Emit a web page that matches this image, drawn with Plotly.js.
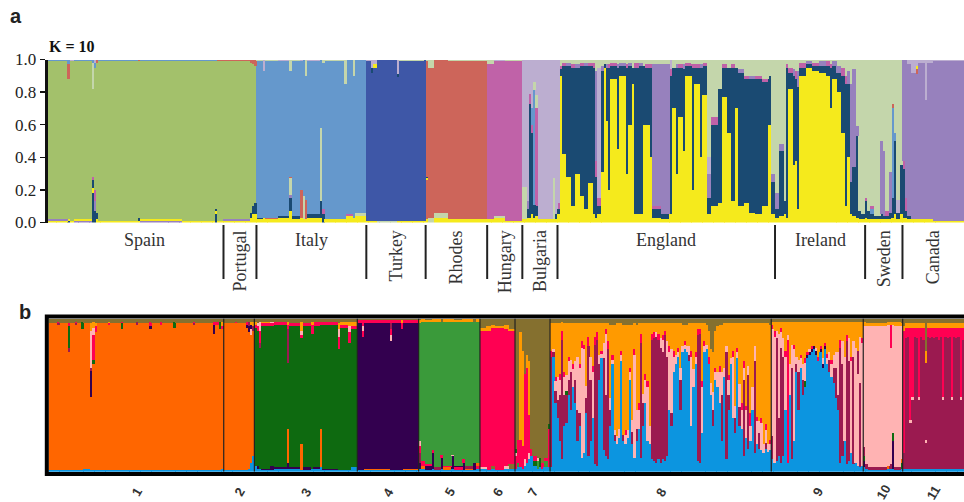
<!DOCTYPE html>
<html><head><meta charset="utf-8">
<script src="https://cdn.plot.ly/plotly-3.0.1.min.js"></script>
<style>html,body{margin:0;padding:0;background:#fff}#chart{width:964px;height:502px}</style>
</head><body><div id="chart"></div>
<script>
// ===================== PANEL a (K = 10) =====================
// Each entry: "count|segments bottom-to-top", values in %, "*" = remainder
const popsA = ['Spain','Portugal','Italy','Turkey','Rhodes','Hungary','Bulgaria','England','Ireland','Sweden','Canada'];
const spainA = ["9|Y1 C1 G* I1","1|N1 Y1 G* R9 I3","2|Y1 G* L1","8|C1 Y1 G* I1","1|N18 Y3 N5 H2 G* S16 I2",
  "1|N7 C6 H7 G* I3 L2","1|Y2 N4 G* R2","18|Y1 G* I1","1|Y1 N2 G* R1","19|C1 Y1 G* I1","15|Y1 G* I1",
  "1|N5 Y2 N1 G* I1","3|Y1 G* R1"];
const portugalA = ["12|Y1 C1 G* R1","1|Y3 N3 G* R2","1|Y5 N5 G* R3","1|Y5 N7 G* R4"];
const italyA = ["3|Y2 N1 I* S1","1|Y3 I* L7","6|Y2 R1 I* S1","5|Y3 N1 I* L1","1|Y7 N8 C2 S10 R1 I* S7",
  "4|Y2 N2 I* S1","1|Y3 R17 I* L1","1|Y2 S14 I*","1|Y2 R12 I* S10","6|Y3 N2 I* L1","1|Y3 N10 S45 I*",
  "1|N5 H3 I* S2","9|Y2 I* S1","1|Y2 I* S15","3|Y4 H1 I*","1|Y3 I* S10","5|Y4 S2 I*"];
const turkeyA = ["2|Y1 T* L1","1|Y1 T* N3 L5","2|Y1 T* Y2 L3","9|S1 T*","1|Y1 T* N2 L9","11|Y1 T* S1","1|Y1 T*"];
const rhodesA = ["1|Y2 R24 Y1 N1 R* S1","3|S3 R* S5","6|Y3 S3 R*","18|Y2 R* S1"];
const hungaryA = ["3|Y2 H* S3","5|Y3 S1 H* L1","8|Y1 H* S1"];
const bulgariaA = ["2|Y2 S20 L*","1|Y3 N5 C5 L*","1|Y3 N70 H6 L*","1|Y5 N50 H5 I10 L*","1|Y3 N8 I70 S5 L*",
  "1|Y4 N6 H60 S8 L*","7|Y2 L*","1|Y2 S25 L*","1|Y2 N3 L*"];
const englandA = ["1|Y5 N3 H4 L*","1|Y90 N4 H2 S*","2|Y42 N54 H2 S*","2|Y28 N68 C2 S*","2|Y10 N85 H2 S*",
  "2|Y30 N65 C2 S*","2|Y16 N80 H2 S*","2|Y8 N88 C2 S*","2|Y24 N72 H2 S*","1|Y5 N90 H3 S*",
  "1|Y3 N25 H10 C55 S*","2|Y5 N5 H5 L80 S*","1|Y31 N62 C3 S*","1|Y95 N2 S*","1|Y62 N33 C2 S*",
  "1|Y20 N75 H2 S*","3|Y88 N8 H2 S*","1|Y45 N50 C2 S*","3|Y90 N6 C2 S*","1|Y30 N65 H2 S*",
  "2|Y60 N36 C2 S*","1|Y85 N10 S*","2|Y5 N90 H3 S*","2|Y5 N91 C2 S*","1|Y60 N36 S*",
  "2|Y60 N35 H2 S*","1|Y40 N55 H2 S*","4|Y3 N5 H2 C87 S*","4|Y2 N3 C92 S*","1|Y5 N85 H4 L*",
  "2|Y70 N25 S*","1|Y30 N65 C2 S*","2|Y65 N30 H2 S*","1|Y44 N50 C3 S*","3|Y90 N6 H2 S*",
  "1|Y20 N75 H2 S*","3|Y85 N10 H2 S*","1|Y40 N55 C2 S*","2|Y78 N18 H2 S*","2|Y5 N10 C15 L10 S*",
  "3|Y10 N50 H5 S*","2|Y12 N70 S*","2|Y77 N18 H2 S*","2|Y55 N40 S*","2|Y13 N82 H2 S*",
  "1|Y70 N25 S*","3|Y10 N82 C2 S*","2|Y12 N76 H2 S*","3|Y6 N82 C2 S*","3|Y5 N83 H2 S*",
  "3|Y10 N76 H2 S*","1|Y60 N30 S*","2|Y5 N20 C5 S*"];
const irelandA = ["2|Y3 N5 C10 S*","2|Y4 N40 C4 S*","1|Y5 N8 S*","1|Y3 N92 H2 S*","2|Y82 N10 H3 S*",
  "1|Y35 N55 C4 S*","1|Y38 N50 H5 S*","1|Y8 N75 C10 S*","3|Y90 N5 H3 S*","3|Y95 N2 C2 S*",
  "3|Y93 N3 H2 S*","3|Y92 N4 C3 S*","2|Y90 N6 H3 S*","1|Y70 N25 H2 S*","2|Y88 N8 C3 S*",
  "2|Y80 N12 C4 S*","2|Y55 N35 H5 S*","1|Y10 N75 H5 S*","1|Y40 N45 C8 S*","1|Y5 N20 C60 S*",
  "2|Y4 N30 C60 S*","1|Y3 N50 C6 S*","1|Y2 N5 S*","2|Y2 N3 S*"];
const swedenA = ["1|Y3 N10 H2 S*","1|Y2 N5 S*","2|Y2 N3 I3 H2 S*","3|Y2 N2 S*","1|Y2 N3 C45 S*",
  "1|Y2 N2 C40 S*","2|Y2 N2 H3 S*","1|Y2 N4 C25 S*","1|Y3 N12 I55 R3 S*","1|Y5 N45 I5 S*",
  "2|Y2 N4 L8 S*","1|Y5 N30 S*"];
const canadaA = ["1|Y3 N30 H5 C*","1|Y3 N4 H8 C*","2|Y2 N2 C* L3","2|Y2 C* L8","1|Y2 C* R3 Y2 L4",
  "3|Y2 C* L2","1|Y2 C* L25","3|Y2 C* L2","14|Y1 C* L1"];
const panelA = [spainA, portugalA, italyA, turkeyA, rhodesA, hungaryA, bulgariaA, englandA, irelandA, swedenA, canadaA];
const tickValsA = [0, 0.2, 0.4, 0.6, 0.8, 1.0];
const tickTextA = ['0.0','0.2','0.4','0.6','0.8','1.0'];

// ===================== PANEL b =====================
const popsB = ['1','2','3','4','5','6','7','8','9','10','11'];
const pop1B = ["4|B1 O* V3","1|B1 O* M1 R1 V2","4|B1 O* V3","1|B1 O77 M3 D14 R2 V*","2|B1 O* V3",
  "1|B1 O* M1 R1 V2","2|B1 O* V3","1|B1 O* D5 V2","3|B2 O* V3",
  "1|B1 O48 P17 M2 K24 A5 V*","1|B1 O69 D3 R16 K5 A4 V*","1|B1 O90 R4 A2 V*","5|B1 O* V3",
  "1|B1 O* R1 A1 V2","5|B1 O* V3","1|B1 O* D4 R1 V2","6|B1 O* V3","1|B1 O* M2 V2","5|B1 O* V3",
  "1|B1 O* P2 R3 V2","4|B1 O* V3","1|B1 O* R2 V2","5|B1 O* V3","1|B1 O* D4 V2",
  "8|B1 O* V3","1|B1 O* M1 R1 V2","8|B1 O* V3","1|B1 O* P6 R2 V2","2|B1 O* R2 V2","1|B1 O* D5 V2",
  "1|B2 O* R2 A3 V2"];
const pop2B = ["5|B1 O* V3","1|B1 O* R1 V2","4|B1 O* V3","1|B1 O* P2 R2 V2","1|B2 O* P4 M3 V2",
  "1|B6 O* K4 P3 A2 V2","1|B10 O* M3 A3 V2"];
const pop3B = ["1|B4 D* R2 A2 V2","1|B2 P2 D* R3 K2 V3","1|B2 D* M3 R8 K6 V2","4|B1 P1 D* R2 A1 V2",
  "2|B1 P3 D* R2 K1 V2","6|B2 P1 D* R2 V2","1|B2 P4 O22 D* M22 R3 A2 V2","5|B2 P1 D* R2 V3",
  "1|B1 O17 D* R2 K3 A6 V2","4|B1 P2 D* R2 V3","1|B2 D* R6 A2 V2","3|B2 P1 D* R3 V2",
  "1|B3 O25 D* R2 V2","7|B1 P1 D* R2 V2","1|B1 D* R8 K5 A4 V3","4|B1 D* R2 A2 V2",
  "1|B1 D* R7 K4 A3 V2","3|B3 D* R2 A3 V2"];
const pop4B = ["2|B1 P* R2 V1","1|B1 P* R4 K3 R4 V1","12|B1 O1 P* R2 V1","1|B1 P* K4 R4 M4 R2 V1",
  "4|B1 P* R2 V1","1|B1 P* R4 A2 V1","7|B1 O1 P* R2 V1"];
const pop5B = ["1|B2 P4 M6 R5 K3 E* A2 V1","2|B2 O2 R3 E* A2","3|B1 P3 R1 E* A1 V1","1|B2 P10 R2 E* A2",
  "3|B1 M2 E* A2","1|B2 P7 R2 E* V2","4|B1 O2 R1 E* A2","1|B2 P8 K1 E* A2","4|B1 R2 P1 E* A1 V1",
  "1|B1 P5 R2 E* A2","4|B1 O1 M2 E* A2","1|B1 P5 E* V2","2|B2 R2 O2 E* A2"];
const pop6B = ["3|B2 K1 R* A2 V6","2|B1 R* A3 V5","2|B2 V2 R* A2 V4","4|B1 R* A1 V5","2|B2 K2 R* A3 V4","3|B2 V3 R* A1 V7"];
const pop7B = ["1|B2 R8 K2 D3 V*","1|B3 E3 R15 V*","1|B3 R18 A70 V*","1|B2 R15 A62 V*","1|B4 K4 R56 V*",
  "1|B6 R62 A8 V*","1|B8 K4 R25 A35 V*","1|B10 R5 V*","2|B4 D3 R3 V*","1|B2 E5 K2 V*","1|B3 D6 V*",
  "1|B2 R4 V*","2|B3 E4 R2 V*","1|B3 R25 D3 V*"];
const pop8B = ["1|B3 M72 R4 A* V3","1|B75 M3 K2 A* V3","1|B45 M8 K6 R3 A* V3","1|B35 M12 K15 A* V3",
  "1|B20 M30 K10 R4 A* V3","1|B8 M78 R6 A* V2","1|B30 M20 K12 R3 A* V3","1|B32 M18 D3 K10 A* V3",
  "1|B50 M10 K12 R3 A* V3","1|B40 M25 K8 A* V3","1|B55 K12 R3 A* V3","1|B45 M15 K12 A* V3",
  "1|B20 M20 K35 A* V3","1|B30 M8 K30 R2 A* V3","1|B9 K72 R4 A* V3","1|B12 K68 R3 A* V3",
  "1|B38 M10 K8 A* V3","1|B10 M72 R6 A* V3","1|B20 M40 K15 A* V3","1|B35 K30 R4 A* V3",
  "1|B5 M78 R5 A* V3","1|B4 M82 R5 A* V3","1|B60 M10 K6 A* V3","1|B74 K3 R2 A* V3",
  "1|B14 M60 K10 A* V3","1|B10 M40 K40 R3 A* V3","1|B8 M72 R5 A* V3","1|B30 M10 K8 A* V4",
  "1|B70 K3 R3 A* V4","1|B20 M4 K3 A* V4","1|B18 K5 A* V3","1|B22 K6 A* V3","1|B72 K4 R3 A* V3",
  "1|B20 M4 A* V4","1|B18 K6 R3 A* V4","1|B22 K5 A* V4","1|B60 K5 R3 A* V4","1|B18 M8 K8 A* V4",
  "1|B9 K67 R4 A* V3","1|B20 M8 K12 A* V4","1|B28 K12 R5 A* V3","1|B9 M75 R6 A* V3",
  "1|B30 M15 K6 A* V3","1|B45 K15 R4 A* V3","1|B20 K35 R4 A* V3","1|B18 K12 A* V3",
  "1|B8 M78 R4 A* V3","1|B7 M80 R4 A* V3","1|B6 M82 K3 A* V3","1|B8 M78 R4 A* V3",
  "1|B6 M75 K6 A* V3","1|B8 M70 K8 R3 A* V3","1|B7 M82 R3 A* V3","1|B10 M65 K10 A* V3",
  "1|B40 K38 R4 A* V3","1|B30 M8 K42 A* V3","1|B65 K10 R4 A* V3","1|B70 K6 A* V3",
  "1|B75 K3 R3 A* V3","1|B40 M20 K8 A* V3","1|B78 K4 A* V4","1|B80 K3 R2 A* V4","1|B78 K4 A* V4",
  "1|B72 M4 K6 A* V3","1|B30 K45 R4 A* V3","1|B55 K12 A* V3","1|B70 K5 R3 A* V3",
  "1|B7 M82 R4 A* V3","1|B6 M84 R3 A* V3","1|B25 K30 R4 A* V3","1|B78 K4 R3 A* V3",
  "1|B80 K3 A* V4","1|B70 R5 A* V8","1|B50 K8 A* V20","1|B30 M10 K12 A* V22","1|B60 K5 R3 A* V8",
  "1|B55 K10 A* V5","1|B45 K20 R4 A* V4","1|B20 M30 K15 A* V4","1|B62 K6 A* V3","1|B8 M70 K4 A* V3",
  "1|B40 M10 K10 R3 A* V3","1|B70 K4 A* V3","1|B35 K40 R4 A* V3","1|B25 M10 K8 A* V3",
  "1|B74 K4 R3 A* V3","1|B30 M12 K15 A* V3","1|B28 K12 R5 A* V3","1|B10 M50 K8 R4 A* V3",
  "1|B22 K18 R3 A* V3","1|B15 M48 K6 A* V3","1|B20 K10 R8 A* V3","1|B40 K15 A* V3",
  "1|B12 M60 K10 A* V3","1|B18 K15 R3 A* V3","1|B15 M10 K8 A* V3","1|B14 K18 R3 A* V3",
  "1|B12 K6 A* V3","1|B15 M4 K8 R4 A* V3","1|B13 K5 A* V3","1|B14 K4 R3 A* V4"];
const pop9B = ["1|B8 M15 K70 R3 A* V2","1|B6 K82 R4 A* V2","1|B7 M80 K5 A* V2","1|B10 M25 K55 A* V2",
  "1|B6 M75 K10 R3 A* V2","1|B10 M65 K12 A* V2","1|B40 K35 R4 A* V2","1|B6 R80 K3 A* V2",
  "1|B50 K20 A* V2","1|B8 M60 K15 A* V2","1|B20 K60 R3 A* V2","1|B65 M5 K5 A* V2",
  "1|B40 M25 K8 A* V2","1|B68 K6 R2 A* V2","1|B50 M10 K10 A* V2","1|B55 D4 K12 R3 A* V2",
  "1|B74 P2 R2 A* V2","1|B76 P2 K2 A* V2","1|B78 P2 R2 A* V2","1|B80 P2 A* V2","1|B76 P3 K2 A* V2",
  "1|B72 R3 A* V2","1|B78 P2 R2 A* V2","1|B68 P2 K4 A* V2","1|B80 P2 R2 A* V2","1|B70 K4 R3 A* V2",
  "1|B65 M8 K5 A* V2","1|B62 K8 R3 A* V2","1|B58 M10 K8 A* V2","1|B48 M20 K10 A* V2",
  "1|B40 M10 K28 A* V2","1|B6 M75 R5 A* V2","1|B10 M60 K15 A* V2","1|B20 K55 A* V2",
  "1|B5 M80 R4 A* V2","1|B7 M65 K15 A* V2","1|B12 K60 R3 A* V2","1|B5 M70 K10 A* V2",
  "1|B6 K75 A* V2","1|B4 K60 M15 A* V2","1|B3 M55 K30 A* V2","1|B4 K80 R3 A* V2"];
const pop10B = ["1|B3 P4 D3 M6 K* A3 V2","1|B2 M3 K* A2 V3","9|B1 M2 K* A2 V3","1|B2 O2 K* A2 V2",
  "1|B2 M3 K* R15 A2 V2","1|B2 P18 D5 K* A2 V2","3|B1 M2 K* A3 V2","1|B2 D4 O2 K* A2 V3"];
const pop11B = ["1|B2 M10 R80 A3 V*","1|B2 M85 R7 A3 V*","1|B2 M86 R6 A3 V*","1|B2 M30 K2 R60 A3 V*",
  "1|B2 M45 K2 R45 A3 V*","1|B2 M86 R6 A3 V*","1|B2 M85 R7 A3 V*","1|B2 M45 K2 R45 A3 V*",
  "1|B2 M86 R6 A3 V*","1|B2 M84 R8 A3 V*","1|B2 M17 K2 M50 A8 V*","1|B2 M86 R6 A3 V*",
  "1|B2 M85 R7 A3 V*","1|B2 M86 R6 A3 V*","1|B2 M85 R7 A3 V*","1|B2 M86 R6 A3 V*",
  "1|B2 M84 R8 A3 V*","1|B2 M86 R6 A3 V*","1|B2 M45 K2 R45 A3 V*","1|B2 M86 R6 A3 V*",
  "1|B2 M85 R7 A3 V*","1|B2 M86 R6 A3 V*","1|B2 M45 K2 R45 A3 V*","1|B2 M86 R6 A3 V*",
  "1|B2 M85 R7 A3 V*","1|B2 M86 R6 A3 V*","1|B2 M45 K2 R45 A3 V*","1|B2 M84 R8 A3 V*"];
const panelB = [pop1B, pop2B, pop3B, pop4B, pop5B, pop6B, pop7B, pop8B, pop9B, pop10B, pop11B];

// ===================== STYLES =====================
const colorsA = {G:'#a3c16b', I:'#6598cc', T:'#3e57a7', R:'#cd655a', H:'#c062a8', L:'#bcaed0',
                 N:'#1a4a72', Y:'#f5ea1c', S:'#c4d6ab', C:'#9781bd'};
const colorsB = {O:'#ff6600', D:'#0e6a10', P:'#33004f', E:'#3a9a3a', R:'#ff0052', V:'#85702f',
                 A:'#ff9a00', B:'#0c95e0', M:'#9b1a50', K:'#ffb3b3'};
const W = 964, H = 502;
const px = x => x / W, py = y => 1 - y / H;

function expand(pop) {
  const out = [];
  pop.forEach(entry => {
    const [n, segs] = entry.split('|');
    const parts = segs.trim().split(/\s+/).map(s => ({k: s[0], v: s.slice(1)}));
    const known = parts.filter(p => p.v !== '*').reduce((a, p) => a + parseFloat(p.v), 0);
    parts.forEach(p => { p.val = (p.v === '*' ? Math.max(0, 100 - known) : parseFloat(p.v)) / 100; });
    for (let i = 0; i < +n; i++) out.push(parts);
  });
  return out;
}
function buildPanel(pops, colors, xa, ya) {
  const tr = {}; let idx = 0; const bounds = [0];
  Object.keys(colors).forEach(k => {
    tr[k] = {type:'bar', x:[], y:[], base:[], width:[], xaxis:xa, yaxis:ya, hoverinfo:'skip', showlegend:false,
             marker:{color:colors[k], line:{width:0}}};
  });
  pops.forEach(pop => {
    expand(pop).forEach(parts => {
      let base = 0;
      parts.forEach(p => {
        const t = tr[p.k];
        t.x.push(idx + 0.5); t.y.push(p.val); t.base.push(base); t.width.push(1.06);
        base += p.val;
      });
      idx++;
    });
    bounds.push(idx);
  });
  return {traces: Object.values(tr), bounds, total: idx};
}
const A = buildPanel(panelA, colorsA, 'x', 'y');
const B = buildPanel(panelB, colorsB, 'x2', 'y2');

const serif = 'Liberation Serif, Times New Roman, serif';
const sans = 'Liberation Sans, Arial, sans-serif';
const shapes = [], annotations = [];

// panel a separators + labels
for (let i = 1; i < A.bounds.length - 1; i++) {
  shapes.push({type:'line', xref:'x', yref:'paper', x0:A.bounds[i], x1:A.bounds[i], y0:py(279), y1:py(225),
               line:{color:'#222', width:2}});
}
popsA.forEach((name, i) => {
  const s = A.bounds[i], e = A.bounds[i + 1], xc = (s + e) / 2;
  const rot = (e - s) < 30;
  annotations.push({text:name, xref:'x', yref:'paper', x:xc, y: rot ? py(228) : py(240),
    xanchor:'center', yanchor: rot ? 'top' : 'middle', textangle: rot ? -90 : 0, showarrow:false,
    xshift: name === 'Spain' ? 9 : 0, font:{family:serif, size:18, color:'#333'}});
});
// panel b division lines + numbers
for (let i = 1; i < B.bounds.length - 1; i++) {
  shapes.push({type:'line', xref:'x2', yref:'y2', x0:B.bounds[i], x1:B.bounds[i], y0:0, y1:1,
               line:{color:'#222', width:1.2}});
}
shapes.push({type:'rect', xref:'paper', yref:'paper', x0:px(46.8), x1:px(968), y0:py(474), y1:py(316.6),
             line:{color:'#000', width:4}, fillcolor:'rgba(0,0,0,0)'});
popsB.forEach((name, i) => {
  const xc = (B.bounds[i] + B.bounds[i + 1]) / 2;
  annotations.push({text:'<b>' + name + '</b>', xref:'x2', yref:'paper', x:xc, y:py(492), xanchor:'center', yanchor:'middle',
    textangle:-60, showarrow:false, font:{family:sans, size:13, color:'#333'}});
});
annotations.push({text:'<b>a</b>', xref:'paper', yref:'paper', x:px(8), y:py(16), xanchor:'left', yanchor:'middle',
  showarrow:false, font:{family:sans, size:20, color:'#222'}});
annotations.push({text:'<b>b</b>', xref:'paper', yref:'paper', x:px(17), y:py(312), xanchor:'left', yanchor:'middle',
  showarrow:false, font:{family:sans, size:20, color:'#222'}});
annotations.push({text:'<b>K = 10</b>', xref:'paper', yref:'paper', x:px(47), y:py(46), xanchor:'left', yanchor:'middle',
  showarrow:false, font:{family:serif, size:16, color:'#111'}});

const layout = {
  width:W, height:H, margin:{l:0, r:0, t:0, b:0}, paper_bgcolor:'#fff', plot_bgcolor:'#fff',
  barmode:'overlay', bargap:0, showlegend:false, hovermode:false,
  xaxis:{domain:[px(47.7), 1], range:[0, A.total], visible:false, fixedrange:true},
  yaxis:{domain:[py(222.5), py(59.5)], range:[0, 1], tickvals:tickValsA, ticktext:tickTextA,
         showgrid:false, zeroline:false, showline:true, linecolor:'#111', linewidth:3,
         ticks:'outside', ticklen:5, tickwidth:1.5, tickcolor:'#111', automargin:false,
         tickfont:{family:serif, size:17, color:'#222'}},
  xaxis2:{domain:[px(48.5), 1], range:[0, B.total], visible:false, anchor:'y2', fixedrange:true},
  yaxis2:{domain:[py(471.7), py(318.5)], range:[0, 1], visible:false, anchor:'x2'},
  shapes, annotations
};
Plotly.newPlot('chart', A.traces.concat(B.traces), layout, {displayModeBar:false, staticPlot:true});
</script></body></html>
